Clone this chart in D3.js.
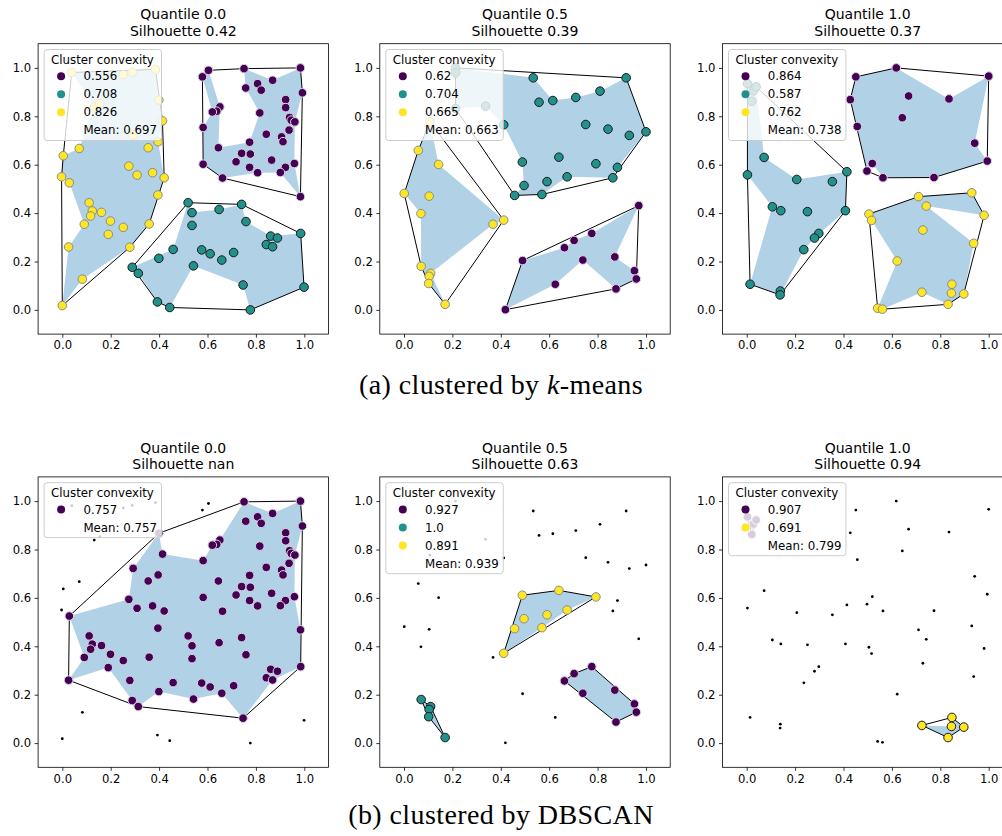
<!DOCTYPE html>
<html>
<head>
<meta charset="utf-8">
<script src="https://cdn.jsdelivr.net/npm/d3@7"></script>
<style>
  body { margin: 0; background: #fff; }
  svg { display: block; }
  .caption { font-family: "Liberation Serif", "Times New Roman", serif; }
</style>
</head>
<body>
<svg id="fig" width="1002" height="836"></svg>
<script>
// ---- panel annotations ----
const quantiles = ["0.0", "0.5", "1.0"];
const silhouetteKMeans = ["0.42", "0.39", "0.37"];
const silhouetteDBSCAN = ["nan", "0.63", "0.94"];
const convexityKMeans = [["0.556", "0.708", "0.826"], ["0.62", "0.704", "0.665"], ["0.864", "0.587", "0.762"]];
const meanKMeans = ["0.697", "0.663", "0.738"];
const convexityDBSCAN = [["0.757"], ["0.927", "1.0", "0.891"], ["0.907", "0.691"]];
const meanDBSCAN = ["0.757", "0.939", "0.799"];
const tickValues = [0, 0.2, 0.4, 0.6, 0.8, 1.0];
const captions = ["(a) clustered by ", "(b) clustered by DBSCAN"];

// ---- datasets: [x, y, k-means label, DBSCAN label (-1 = noise)] ----
const pointsA = [
  [0.039,0.981,2,-1],[0.252,0.972,2,-1],[0.289,0.982,2,-1],[0.385,0.994,2,-1],[0.132,0.839,2,-1],[0.155,0.853,2,-1],
  [0.399,0.867,2,0],[0.414,0.781,2,0],[0.293,0.722,2,0],[0.396,0.695,2,0],[0.355,0.670,2,0],[0.070,0.667,2,-1],
  [0.004,0.637,2,-1],[-0.003,0.550,2,-1],[0.029,0.525,2,0],[0.275,0.594,2,0],[0.309,0.557,2,0],[0.373,0.567,2,0],
  [0.421,0.546,2,0],[0.395,0.475,2,0],[0.111,0.443,2,0],[0.124,0.409,2,0],[0.117,0.388,2,0],[0.162,0.403,2,0],
  [0.199,0.367,2,0],[0.091,0.354,2,0],[0.190,0.312,2,0],[0.252,0.341,2,0],[0.359,0.355,2,0],[0.279,0.259,2,0],
  [0.026,0.260,2,0],[0.083,0.127,2,-1],[0.000,0.018,2,-1],
  [0.604,0.990,0,-1],[0.579,0.963,0,-1],[0.751,0.997,0,0],[0.984,1.000,0,0],[0.992,0.897,0,0],[0.758,0.917,0,0],
  [0.807,0.935,0,0],[0.822,0.908,0,0],[0.869,0.949,0,0],[0.923,0.869,0,0],[0.923,0.836,0,0],[0.651,0.839,0,0],
  [0.638,0.821,0,0],[0.620,0.818,0,0],[0.816,0.814,0,0],[0.939,0.795,0,0],[0.946,0.784,0,0],[0.961,0.777,0,0],
  [0.582,0.754,0,0],[0.937,0.743,0,0],[0.843,0.726,0,0],[0.906,0.715,0,0],[0.912,0.695,0,0],[0.645,0.670,0,0],
  [0.774,0.693,0,0],[0.741,0.647,0,0],[0.777,0.644,0,0],[0.718,0.612,0,0],[0.865,0.619,0,0],[0.959,0.605,0,0],
  [0.922,0.589,0,0],[0.774,0.589,0,0],[0.807,0.567,0,0],[0.901,0.568,0,0],[0.582,0.602,0,0],[0.662,0.545,0,0],
  [0.984,0.468,0,0],
  [0.520,0.443,1,0],[0.536,0.402,1,0],[0.536,0.349,1,0],[0.648,0.415,1,0],[0.741,0.436,1,0],[0.759,0.365,1,0],
  [0.985,0.316,1,0],[0.861,0.305,1,0],[0.889,0.297,1,0],[0.843,0.270,1,0],[0.869,0.261,1,0],[0.458,0.250,1,0],
  [0.576,0.248,1,0],[0.611,0.232,1,0],[0.708,0.237,1,0],[0.659,0.206,1,0],[0.399,0.213,1,0],[0.289,0.176,1,0],
  [0.314,0.151,1,0],[0.542,0.182,1,0],[0.747,0.103,1,0],[0.999,0.094,1,-1],[0.393,0.033,1,-1],[0.444,0.010,1,-1],
  [0.777,0.000,1,-1]
];
const pointsB = [
  [0.213,1.000,1,-1],[0.213,0.979,1,-1],[0.213,0.832,1,-1],[0.337,0.842,1,-1],[0.412,0.765,1,-1],[0.534,0.959,1,-1],
  [0.918,0.959,1,-1],[0.558,0.858,1,-1],[0.615,0.865,1,-1],[0.710,0.878,1,-1],[0.810,0.904,1,-1],[0.751,0.766,1,-1],
  [0.843,0.747,1,-1],[0.931,0.721,1,-1],[1.000,0.736,1,-1],[0.640,0.631,1,2],[0.489,0.611,1,2],[0.793,0.604,1,2],
  [0.882,0.589,1,-1],[0.674,0.550,1,2],[0.863,0.546,1,-1],[0.591,0.530,1,2],[0.496,0.514,1,2],[0.457,0.473,1,2],
  [0.570,0.477,1,2],
  [0.107,0.777,2,-1],[0.059,0.659,2,-1],[0.143,0.601,2,-1],[0.001,0.481,2,-1],[0.104,0.470,2,-1],[0.070,0.398,2,-1],
  [0.368,0.354,2,-1],[0.412,0.371,2,2],[0.071,0.180,2,1],[0.110,0.151,2,1],[0.104,0.139,2,1],[0.102,0.109,2,1],
  [0.170,0.023,2,1],
  [0.970,0.431,0,-1],[0.776,0.316,0,0],[0.703,0.287,0,0],[0.663,0.257,0,0],[0.490,0.204,0,-1],[0.739,0.206,0,0],
  [0.871,0.219,0,0],[0.952,0.162,0,0],[0.960,0.128,0,0],[0.625,0.106,0,-1],[0.876,0.087,0,0],[0.419,0.001,0,-1]
];
const pointsC = [
  [0.618,1.000,0,-1],[0.451,0.963,0,-1],[1.000,0.966,0,-1],[0.428,0.869,0,-1],[0.669,0.884,0,-1],[0.836,0.872,0,-1],
  [0.643,0.794,0,-1],[0.457,0.758,0,-1],[0.942,0.689,0,-1],[0.994,0.615,0,-1],[0.519,0.605,0,-1],[0.497,0.574,0,-1],
  [0.563,0.546,0,-1],[0.774,0.547,0,-1],
  [0.003,0.935,1,0],[0.028,0.905,1,0],[0.039,0.922,1,0],[0.021,0.862,1,0],[0.072,0.630,1,-1],[0.003,0.558,1,-1],
  [0.207,0.539,1,-1],[0.354,0.530,1,-1],[0.414,0.571,1,-1],[0.106,0.426,1,-1],[0.141,0.410,1,-1],[0.251,0.406,1,-1],
  [0.408,0.410,1,-1],[0.298,0.316,1,-1],[0.280,0.297,1,-1],[0.236,0.249,1,-1],[0.014,0.106,1,-1],[0.139,0.078,1,-1],
  [0.138,0.062,1,-1],
  [0.710,0.468,2,-1],[0.930,0.484,2,-1],[0.742,0.429,2,-1],[0.505,0.396,2,-1],[0.516,0.370,2,-1],[0.981,0.391,2,-1],
  [0.728,0.330,2,-1],[0.938,0.275,2,-1],[0.622,0.202,2,-1],[0.848,0.106,2,1],[0.724,0.073,2,1],[0.846,0.069,2,1],
  [0.897,0.066,2,1],[0.832,0.023,2,1],[0.541,0.007,2,-1],[0.561,0.003,2,-1]
];

// ---- concave outlines (ordered vertices), one list per cluster label ----
const outlineKMeansA = [
  [[0.579,0.963],[0.604,0.990],[0.651,0.839],[0.645,0.670],[0.774,0.693],[0.816,0.814],[0.758,0.917],[0.751,0.997],
   [0.869,0.949],[0.984,1.000],[0.992,0.897],[0.961,0.777],[0.959,0.605],[0.984,0.468],[0.901,0.568],[0.807,0.567],
   [0.662,0.545],[0.582,0.602],[0.582,0.754],[0.620,0.818]],
  [[0.520,0.443],[0.536,0.402],[0.648,0.415],[0.741,0.436],[0.759,0.365],[0.861,0.305],[0.985,0.316],[0.999,0.094],
   [0.777,0.000],[0.747,0.103],[0.542,0.182],[0.444,0.010],[0.393,0.033],[0.314,0.151],[0.289,0.176],[0.458,0.250]],
  [[0.039,0.981],[0.385,0.994],[0.399,0.867],[0.414,0.781],[0.396,0.695],[0.421,0.546],[0.395,0.475],[0.359,0.355],
   [0.279,0.259],[0.083,0.127],[0.000,0.018],[0.026,0.260],[0.091,0.354],[0.029,0.525],[-0.003,0.550],[0.004,0.637],
   [0.070,0.667],[0.132,0.839]]
];
const outlineKMeansB = [
  [[0.419,0.001],[0.490,0.204],[0.663,0.257],[0.703,0.287],[0.776,0.316],[0.970,0.431],[0.871,0.219],[0.952,0.162],
   [0.960,0.128],[0.876,0.087],[0.739,0.206],[0.625,0.106]],
  [[0.213,1.000],[0.534,0.959],[0.615,0.865],[0.710,0.878],[0.810,0.904],[0.918,0.959],[1.000,0.736],[0.882,0.589],
   [0.863,0.546],[0.674,0.550],[0.570,0.477],[0.457,0.473],[0.496,0.514],[0.489,0.611],[0.412,0.765],[0.337,0.842],
   [0.213,0.832],[0.213,0.979]],
  [[0.107,0.777],[0.143,0.601],[0.412,0.371],[0.368,0.354],[0.110,0.151],[0.170,0.023],[0.102,0.109],[0.071,0.180],
   [0.070,0.398],[0.001,0.481],[0.059,0.659]]
];
const outlineKMeansC = [
  [[0.451,0.963],[0.618,1.000],[0.836,0.872],[1.000,0.966],[0.942,0.689],[0.994,0.615],[0.774,0.547],[0.563,0.546],
   [0.519,0.605],[0.497,0.574],[0.457,0.758],[0.428,0.869]],
  [[0.003,0.935],[0.039,0.922],[0.072,0.630],[0.207,0.539],[0.414,0.571],[0.408,0.410],[0.280,0.297],[0.236,0.249],
   [0.138,0.062],[0.014,0.106],[0.106,0.426],[0.003,0.558]],
  [[0.505,0.396],[0.710,0.468],[0.930,0.484],[0.981,0.391],[0.742,0.429],[0.938,0.275],[0.897,0.066],[0.832,0.023],
   [0.724,0.073],[0.561,0.003],[0.541,0.007],[0.622,0.202],[0.516,0.370]]
];
const outlineDBSCANA = [
  [[0.029,0.525],[0.275,0.594],[0.293,0.722],[0.399,0.867],[0.414,0.781],[0.582,0.754],[0.620,0.818],[0.651,0.839],
   [0.751,0.997],[0.869,0.949],[0.984,1.000],[0.992,0.897],[0.961,0.777],[0.959,0.605],[0.984,0.468],[0.985,0.316],
   [0.869,0.261],[0.747,0.103],[0.659,0.206],[0.542,0.182],[0.399,0.213],[0.314,0.151],[0.289,0.176],[0.190,0.312],
   [0.026,0.260],[0.091,0.354]]
];
const outlineDBSCANB = [
  [[0.663,0.257],[0.703,0.287],[0.776,0.316],[0.952,0.162],[0.960,0.128],[0.876,0.087]],
  [[0.071,0.180],[0.110,0.151],[0.170,0.023],[0.102,0.109]],
  [[0.489,0.611],[0.640,0.631],[0.793,0.604],[0.674,0.550],[0.570,0.477],[0.412,0.371]]
];
const outlineDBSCANC = [
  [[0.003,0.935],[0.039,0.922],[0.028,0.905],[0.021,0.862]],
  [[0.724,0.073],[0.846,0.069],[0.848,0.106],[0.897,0.066],[0.832,0.023]]
];

// ---- layout & style ----
const svg = d3.select("#fig");
const colLeft = [38.1, 379.8, 722.5];
const rowTop = [43.7, 476.9];
const side = 290.4;
const sans = "DejaVu Sans, sans-serif";
const tickFont = 11.6;
const legendFont = 11.8;
const titleFont = 14;
const hullFill = "#b1d1e6";
const edgeByCount = {
  1: ["#ddd6e3"],
  2: ["#ddd6e3", "#1a1a1a"],
  3: ["#ddd6e3", "#1a1a1a", "#8a8a8a"]
};
const fillFor = (i, n) => n === 1 ? d3.interpolateViridis(0) : d3.interpolateViridis(i / (n - 1));

function drawPanel(col, row, points, labelIndex, outlines, quantile, silhouette, convexities, mean) {
  const n = outlines.length;
  const x = d3.scaleLinear().domain([-0.1, 1.1]).range([colLeft[col], colLeft[col] + side]);
  const y = d3.scaleLinear().domain([-0.1, 1.1]).range([rowTop[row] + side, rowTop[row]]);
  const g = svg.append("g");
  const clipId = `clip-${row}-${col}`;
  g.append("clipPath").attr("id", clipId).append("rect")
    .attr("x", x(-0.1)).attr("y", y(1.1)).attr("width", side).attr("height", side);

  const plot = g.append("g").attr("clip-path", `url(#${clipId})`);
  const line = d3.line().x(d => x(d[0])).y(d => y(d[1]));

  // concave outlines
  plot.selectAll("path.concave").data(outlines).join("path")
    .attr("d", d => line(d) + "Z")
    .attr("fill", hullFill).attr("stroke", "none");

  // convex hulls
  outlines.forEach((_, k) => {
    const members = points.filter(p => p[labelIndex] === k).map(p => [p[0], p[1]]);
    const hull = d3.polygonHull(members);
    if (hull) {
      plot.append("path").attr("d", line(hull) + "Z")
        .attr("fill", "none").attr("stroke", "#000").attr("stroke-width", 1);
    }
  });

  // noise points
  plot.selectAll("circle.noise").data(points.filter(p => p[labelIndex] < 0)).join("circle")
    .attr("cx", d => x(d[0])).attr("cy", d => y(d[1])).attr("r", 1.4).attr("fill", "#000");

  // clustered points
  plot.selectAll("circle.member").data(points.filter(p => p[labelIndex] >= 0)).join("circle")
    .attr("cx", d => x(d[0])).attr("cy", d => y(d[1])).attr("r", 4.3)
    .attr("fill", d => fillFor(d[labelIndex], n))
    .attr("stroke", d => edgeByCount[n][d[labelIndex]])
    .attr("stroke-width", 1);

  // axes
  const axB = g.append("g").attr("transform", `translate(0,${y(-0.1)})`)
    .call(d3.axisBottom(x).tickValues(tickValues).tickFormat(d3.format(".1f")).tickSize(3.5).tickPadding(3.5).tickSizeOuter(0));
  const axL = g.append("g").attr("transform", `translate(${x(-0.1)},0)`)
    .call(d3.axisLeft(y).tickValues(tickValues).tickFormat(d3.format(".1f")).tickSize(3.5).tickPadding(3.5).tickSizeOuter(0));
  [axB, axL].forEach(a => {
    a.select(".domain").remove();
    a.selectAll("text").attr("font-family", sans).attr("font-size", tickFont).attr("fill", "#000");
    a.selectAll("line").attr("stroke", "#000").attr("stroke-width", 0.8);
  });
  g.append("rect").attr("x", x(-0.1)).attr("y", y(1.1)).attr("width", side).attr("height", side)
    .attr("fill", "none").attr("stroke", "#000").attr("stroke-width", 0.8);

  // titles
  const cx = x(0.5);
  g.append("text").attr("x", cx).attr("y", y(1.1) - 24.4).attr("text-anchor", "middle")
    .attr("font-family", sans).attr("font-size", titleFont).text(`Quantile ${quantile}`);
  g.append("text").attr("x", cx).attr("y", y(1.1) - 7.7).attr("text-anchor", "middle")
    .attr("font-family", sans).attr("font-size", titleFont).text(`Silhouette ${silhouette}`);

  // legend
  const lg = g.append("g").attr("transform", `translate(${x(-0.1) + 6},${y(1.1) + 5.8})`);
  const box = lg.append("rect").attr("rx", 3).attr("ry", 3)
    .attr("fill", "#fff").attr("fill-opacity", 0.8).attr("stroke", "#cccccc").attr("stroke-width", 1);
  const texts = [];
  texts.push(lg.append("text").attr("x", 7).attr("y", 10).attr("dy", "0.35em")
    .attr("font-family", sans).attr("font-size", legendFont).text("Cluster convexity"));
  convexities.forEach((v, i) => {
    lg.append("circle").attr("cx", 17).attr("cy", 26.7 + 18 * i).attr("r", 4).attr("fill", fillFor(i, n));
    texts.push(lg.append("text").attr("x", 39.3).attr("y", 26.7 + 18 * i).attr("dy", "0.35em")
      .attr("font-family", sans).attr("font-size", legendFont).text(v));
  });
  texts.push(lg.append("text").attr("x", 39.3).attr("y", 26.7 + 18 * convexities.length).attr("dy", "0.35em")
    .attr("font-family", sans).attr("font-size", legendFont).text(`Mean: ${mean}`));
  const right = d3.max(texts, t => { const b = t.node().getBBox(); return b.x + b.width; });
  box.attr("x", 0).attr("y", 0).attr("width", right + 4.5)
    .attr("height", 26.7 + 18 * convexities.length + 10.3);
}

const datasets = [pointsA, pointsB, pointsC];
const kmOutlines = [outlineKMeansA, outlineKMeansB, outlineKMeansC];
const dbOutlines = [outlineDBSCANA, outlineDBSCANB, outlineDBSCANC];
for (let c = 0; c < 3; c++) {
  drawPanel(c, 0, datasets[c], 2, kmOutlines[c], quantiles[c], silhouetteKMeans[c], convexityKMeans[c], meanKMeans[c]);
  drawPanel(c, 1, datasets[c], 3, dbOutlines[c], quantiles[c], silhouetteDBSCAN[c], convexityDBSCAN[c], meanDBSCAN[c]);
}

// sub-figure captions
const capA = svg.append("text").attr("class", "caption").attr("x", 501).attr("y", 394)
  .attr("text-anchor", "middle").attr("font-size", 28).attr("letter-spacing", 0.4);
capA.append("tspan").text(captions[0]);
capA.append("tspan").attr("font-style", "italic").text("k");
capA.append("tspan").text("-means");
svg.append("text").attr("class", "caption").attr("x", 501).attr("y", 824)
  .attr("text-anchor", "middle").attr("font-size", 28).attr("letter-spacing", 0.4).text(captions[1]);
</script>
</body>
</html>
